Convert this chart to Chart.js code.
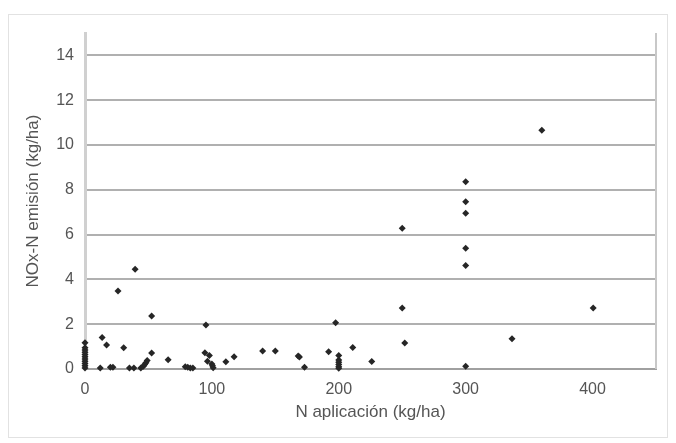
<!DOCTYPE html>
<html>
<head>
<meta charset="utf-8">
<script src="https://cdn.jsdelivr.net/npm/chart.js@4.4.1/dist/chart.umd.min.js"></script>
<style>
  html, body { margin: 0; padding: 0; background: #fff; }
</style>
</head>
<body>
<canvas id="noxChart" width="676" height="443"></canvas>
<script>
// Datos: N aplicado (kg/ha) vs emisión NOx-N (kg/ha)
var nAplicacion = [
    0, 0, 0, 0, 0, 0, 0, 0, 0, 0, 0,
    12, 13.5, 17, 20, 22, 26, 30.5, 35, 38.5, 39.5,
    44, 46, 47, 48, 49, 52.5, 52.5, 65.5,
    79, 81, 83, 85, 95.3, 94.5, 98, 96.5, 100, 100.5, 101,
    111, 117.5, 140, 150, 168, 169, 173,
    192, 197.5, 200, 200, 200, 200, 200, 200, 211, 226,
    250, 250, 252, 300, 300, 300, 300, 300, 300,
    336.5, 360, 400.5
];
var noxEmision = [
    1.17, 0.95, 0.85, 0.75, 0.65, 0.55, 0.45, 0.35, 0.25, 0.15, 0.05,
    0.05, 1.41, 1.07, 0.08, 0.08, 3.48, 0.95, 0.05, 0.05, 4.45,
    0.05, 0.12, 0.2, 0.28, 0.38, 2.37, 0.71, 0.41,
    0.1, 0.08, 0.05, 0.05, 1.96, 0.73, 0.6, 0.35, 0.22, 0.14, 0.06,
    0.32, 0.55, 0.8, 0.8, 0.58, 0.54, 0.08,
    0.77, 2.06, 0.6, 0.4, 0.3, 0.2, 0.1, 0.03, 0.96, 0.34,
    6.28, 2.72, 1.16, 8.36, 7.47, 6.95, 5.39, 4.62, 0.12,
    1.35, 10.66, 2.72
];
var xTicks = [0, 100, 200, 300, 400];
var yTicks = [0, 2, 4, 6, 8, 10, 12, 14];

var puntos = nAplicacion.map(function(x, i) {
    return { x: x, y: noxEmision[i] };
});

// Marco exterior y borde derecho del área de trazado
var marcos = {
    id: 'marcos',
    beforeDraw: function(chart) {
        var ctx = chart.ctx;
        ctx.save();
        ctx.strokeStyle = '#e2e2e2';
        ctx.lineWidth = 1;
        ctx.strokeRect(8.5, 14.5, 659, 423);
        ctx.restore();
    },
    afterDatasetsDraw: function(chart) {
        var a = chart.chartArea;
        var ctx = chart.ctx;
        ctx.save();
        ctx.strokeStyle = '#c8c8c8';
        ctx.lineWidth = 2;
        ctx.beginPath();
        ctx.moveTo(a.right, a.top);
        ctx.lineTo(a.right, a.bottom);
        ctx.stroke();
        ctx.restore();
    }
};

var ctx = document.getElementById('noxChart').getContext('2d');
var noxChart = new Chart(ctx, {
    type: 'scatter',
    data: {
        datasets: [{
            label: 'NOx-N',
            data: puntos,
            pointStyle: 'rectRot',
            pointRadius: 3.5,
            pointHoverRadius: 3.5,
            backgroundColor: '#262626',
            borderColor: '#262626',
            borderWidth: 0,
            clip: false
        }]
    },
    options: {
        responsive: false,
        animation: false,
        layout: {
            padding: { top: 33, right: 20, bottom: 0, left: 0 }
        },
        plugins: {
            legend: { display: false },
            tooltip: { enabled: false }
        },
        scales: {
            x: {
                type: 'linear',
                min: 0,
                max: 450,
                afterBuildTicks: function(scale) {
                    scale.ticks = xTicks.map(function(v) { return { value: v }; });
                },
                afterFit: function(scale) { scale.height = 74; },
                grid: { color: 'rgba(0,0,0,0)', drawTicks: false },
                border: { display: true, color: '#a0a0a0', width: 2 },
                ticks: {
                    color: '#555',
                    padding: 11,
                    maxRotation: 0,
                    font: { family: 'Arial, "Liberation Sans", sans-serif', size: 16 }
                },
                title: {
                    display: true,
                    text: 'N aplicación (kg/ha)',
                    color: '#555',
                    padding: { top: 0, bottom: 20 },
                    font: { family: 'Arial, "Liberation Sans", sans-serif', size: 17 }
                }
            },
            y: {
                type: 'linear',
                min: 0,
                max: 15,
                afterBuildTicks: function(scale) {
                    scale.ticks = yTicks.map(function(v) { return { value: v }; });
                },
                afterFit: function(scale) { scale.width = 85; },
                grid: { color: '#b0b0b0', lineWidth: 2, drawTicks: false },
                border: { display: true, color: '#d0d0d0', width: 3 },
                ticks: {
                    color: '#555',
                    padding: 11,
                    font: { family: 'Arial, "Liberation Sans", sans-serif', size: 16 }
                },
                title: {
                    display: true,
                    text: 'NOx-N emisión (kg/ha)',
                    color: '#555',
                    padding: { top: 23, bottom: 0 },
                    font: { family: 'Arial, "Liberation Sans", sans-serif', size: 17 }
                }
            }
        }
    },
    plugins: [marcos]
});
</script>
</body>
</html>
